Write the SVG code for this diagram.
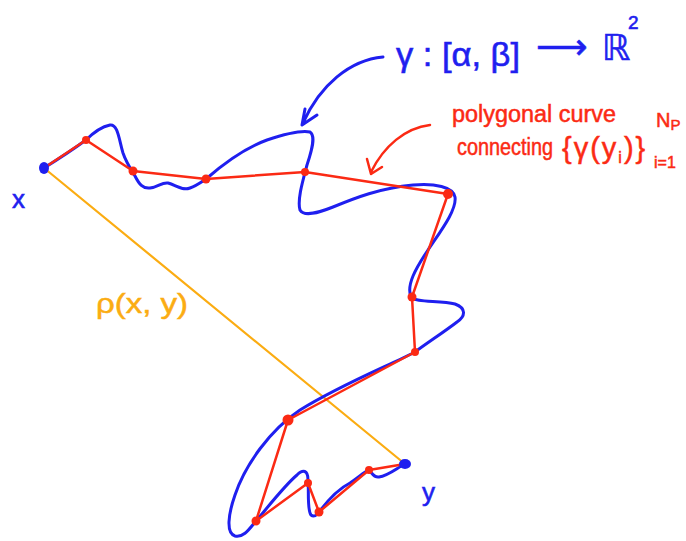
<svg xmlns="http://www.w3.org/2000/svg" width="686" height="541" viewBox="0 0 686 541">
<style>
.blue{fill:none;stroke:#1f1fef;stroke-width:3;stroke-linecap:round;stroke-linejoin:round}
.red{fill:none;stroke:#fb2a14;stroke-width:2.5;stroke-linecap:round;stroke-linejoin:round}
.orange{fill:none;stroke:#fbac12;stroke-width:2.2;stroke-linecap:round}
.rdot{fill:#fb2a14}
.bdot{fill:#1f1fef}
.tb{fill:#1f1fef;stroke:#1f1fef;stroke-width:0.6;font-family:"Liberation Sans","DejaVu Sans",sans-serif}
.tr{fill:#fb2a14;stroke:#fb2a14;stroke-width:0.5;font-family:"Liberation Sans","DejaVu Sans",sans-serif}
.to{fill:#fbac12;stroke:#fbac12;stroke-width:0.5;font-family:"Liberation Sans","DejaVu Sans",sans-serif}
</style>
<rect width="686" height="541" fill="#ffffff"/>
<g id="connectors">
  <line id="rho" class="orange" x1="44" y1="168" x2="405" y2="464"/>
  <path id="gamma-curve" class="blue" d="M44,168 C60,158 75,148 86,140 C92,134 100,127 110,125 C118,124 119,140 123,153 C126,162 130,168 135,176 C139,184 143,189 150,188 C158,187 162,182 168,183 C176,185 182,191 190,188 C196,186 200,183 206,179 C222,165 245,148 267,140 C285,134 300,130 310,132 C316,136 312,150 307,165 C303,180 297,200 300,210 C304,217 318,213 333,207 C355,198 380,188 413,185 C435,183 453,187 455,197 C457,210 440,232 428,250 C416,268 406,285 411,297 C415,303 440,300 455,304 C466,308 466,316 457,322 C444,332 427,343 415,352 C390,365 340,385 300,410 C270,430 245,465 235,495 C228,515 226,533 235,536 C244,538 250,528 256,521 C268,507 285,485 297,475 C303,469 308,470 308,480 C309,492 307,510 311,515 C315,518 317,514 319,512 C328,500 340,488 350,483 C358,478 364,472 369,470 C372,473 374,478 379,477 C388,476 397,468 405,464"/>
  <polyline id="polygon" class="red" points="44,168 86,140 133,171 206,179 305,172 448,194 412,297 415,352 288,420 256,521 308,483 319,512 369,470 405,464"/>
  <path id="gamma-arrow" class="blue" d="M383,57 C350,60 320,85 303,123 M305,109 L302,125 L317,115"/>
  <path id="poly-arrow" class="red" d="M430,125 C405,128 384,146 371,172 M367,159 L371,174 L382,167"/>
</g>
<g id="vertices">
  <circle class="rdot" cx="86" cy="140" r="4"/>
  <circle class="rdot" cx="133" cy="171" r="4.5"/>
  <circle class="rdot" cx="206" cy="179" r="4.5"/>
  <circle class="rdot" cx="305" cy="172" r="4"/>
  <circle class="rdot" cx="448" cy="194" r="5"/>
  <circle class="rdot" cx="412" cy="297" r="4.5"/>
  <circle class="rdot" cx="415" cy="352" r="4"/>
  <circle class="rdot" cx="288" cy="420" r="5.5"/>
  <circle class="rdot" cx="256" cy="521" r="4.5"/>
  <circle class="rdot" cx="308" cy="483" r="4"/>
  <circle class="rdot" cx="319" cy="512" r="4.5"/>
  <circle class="rdot" cx="369" cy="470" r="4"/>
</g>
<g id="node-x">
  <ellipse class="bdot" cx="44" cy="168" rx="5" ry="6"/>
  <text class="tb" x="12" y="208" font-size="26">x</text>
</g>
<g id="node-y">
  <ellipse class="bdot" cx="405" cy="464" rx="6" ry="5"/>
  <text class="tb" x="422" y="501" font-size="26">y</text>
</g>
<g id="label-gamma">
  <text class="tb" x="396" y="66" font-size="34" textLength="124" lengthAdjust="spacingAndGlyphs">γ : [α, β]</text>
  <text class="tb" x="536" y="59" font-size="36" font-family="DejaVu Sans, sans-serif">⟶</text>
  <text class="tb" x="602" y="60" font-size="36">ℝ</text>
  <text class="tb" x="628" y="29" font-size="19">2</text>
</g>
<g id="label-polygon">
  <text class="tr" x="452" y="122" font-size="23" textLength="164" lengthAdjust="spacingAndGlyphs">polygonal curve</text>
  <text class="tr" x="457" y="155" font-size="23" textLength="96" lengthAdjust="spacingAndGlyphs">connecting</text>
  <text class="tr" x="562" y="158" font-size="29" letter-spacing="2">{γ(y<tspan font-size="16" dy="5">i</tspan><tspan dy="-5">)}</tspan></text>
  <text class="tr" x="656" y="127" font-size="20">N<tspan font-size="15" dy="3">P</tspan></text>
  <text class="tr" x="654" y="168" font-size="16">i=1</text>
</g>
<g id="label-rho">
  <text class="to" x="96" y="313" font-size="28" textLength="92" lengthAdjust="spacingAndGlyphs">ρ(x, y)</text>
</g>
</svg>
